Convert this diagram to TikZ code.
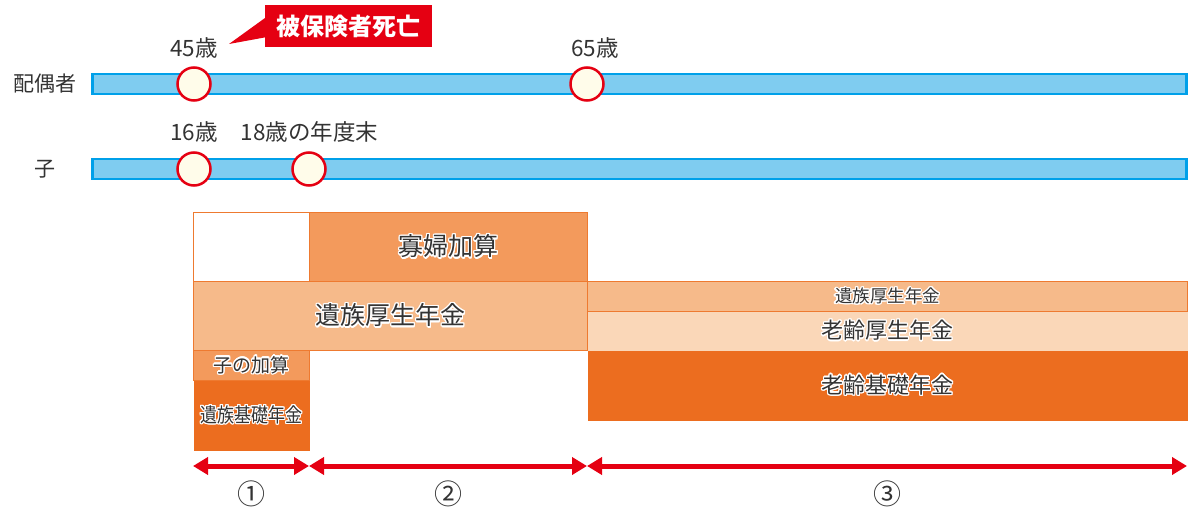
\documentclass[tikz,border=0pt]{standalone}
\usepackage{fontspec}
\setmainfont{Noto Sans CJK JP}
\usepackage{contour}
\contourlength{1.3pt}
\usetikzlibrary{arrows.meta}
\definecolor{barfill}{HTML}{7FCCF0}
\definecolor{barline}{HTML}{00A0E9}
\definecolor{dotfill}{HTML}{FFFCEA}
\definecolor{alertred}{HTML}{E50012}
\definecolor{edgeor}{HTML}{EE7A30}
\definecolor{midor}{HTML}{F39A5C}
\definecolor{lightor}{HTML}{F6BA8A}
\definecolor{paleor}{HTML}{FAD7B8}
\definecolor{darkor}{HTML}{EC6D1F}
\definecolor{ink}{HTML}{333333}
\newcommand{\fs}[1]{\fontsize{#1}{#1}\selectfont}
\newcommand{\halo}[1]{\contour{white}{#1}}
\tikzset{
  lane/.style={draw=barline,fill=barfill,line width=2.5pt,minimum height=20pt,
    minimum width=1094pt,anchor=west,inner sep=0pt},
  age/.style={circle,draw=alertred,fill=dotfill,line width=2.5pt,minimum size=33pt,inner sep=0pt},
  tag/.style={text=ink,font=\fs{21}},
  block/.style={draw=edgeor,line width=1pt,anchor=north west,inner sep=0pt,text=ink},
  span/.style={draw=alertred,line width=5pt,{Triangle[length=15pt,width=17pt]}-{Triangle[length=15pt,width=17pt]}},
}
\begin{document}
\begin{tikzpicture}[x=1pt,y=-1pt]
\useasboundingbox (0,0) rectangle (1189,511);
% time lines
\node[lane] (spouse) at (91,84) {};
\node[lane] (child) at (91,169) {};
\node[tag] (lspouse) at (45,84) {配偶者};
\node[tag] (lchild) at (45,169) {子};
\node[age] (s45) at (194,84) {};
\node[age] (s65) at (587,84) {};
\node[age] (c16) at (194,169) {};
\node[age] (c18) at (309,169) {};
\node[tag,font=\fs{22.5}] (t45) at (194,48) {45歳};
\node[tag,font=\fs{22.5}] (t65) at (595,48) {65歳};
\node[tag,font=\fs{22.5}] (t16) at (194,132) {16歳};
\node[tag,font=\fs{22.5},anchor=west] (t18) at (237,132) {18歳の年度末};
% callout
\node[fill=alertred,text=white,font=\bfseries\fs{24},minimum width=167pt,minimum height=42pt,
  inner sep=0pt,anchor=north west] (dead) at (265,5) {被保険者死亡};
\coordinate (tip) at (229,44);
\fill[alertred] ([yshift=-13pt]dead.north west) -- (tip) -- ([yshift=10pt]dead.south west) -- cycle;
% benefit blocks
\node[block,fill=white,minimum width=116pt,minimum height=69pt] (empty) at (193,212) {};
\node[block,fill=midor,minimum width=278pt,minimum height=69pt,font=\fs{25}] (widow) at (309,212) {\halo{寡婦加算}};
\node[block,fill=lightor,minimum width=394pt,minimum height=69pt,font=\fs{25}] (survA) at (193,281) {\halo{遺族厚生年金}};
\node[block,fill=midor,minimum width=116pt,minimum height=30pt,font=\fs{19}] (kid) at (193,350) {\halo{子の加算}};
\node[block,draw=none,fill=darkor,minimum width=116pt,minimum height=70pt,font=\fs{20}] (basic) at (193,380) {\scalebox{0.85}[1]{\halo{遺族基礎年金}}};
\node[block,fill=lightor,minimum width=600pt,minimum height=30pt,font=\fs{17.5}] (survB) at (587,281) {\halo{遺族厚生年金}};
\node[block,draw=none,fill=paleor,minimum width=600pt,minimum height=39pt,font=\fs{22}] (old) at (587,311) {\halo{老齢厚生年金}};
\node[block,draw=none,fill=darkor,minimum width=600pt,minimum height=70pt,font=\fs{22}] (oldbasic) at (587,350) {\halo{老齢基礎年金}};
% periods
\coordinate (p0) at (193,466);
\coordinate (p1) at (309,466);
\coordinate (p2) at (587,466);
\coordinate (p3) at (1187,466);
\draw[span] (p0) -- (p1);
\draw[span] (p1) -- (p2);
\draw[span] (p2) -- (p3);
\node[tag,font=\fs{28}] (n1) at (251,494) {①};
\node[tag,font=\fs{28}] (n2) at (448,494) {②};
\node[tag,font=\fs{28}] (n3) at (887,494) {③};
\end{tikzpicture}
\end{document}
